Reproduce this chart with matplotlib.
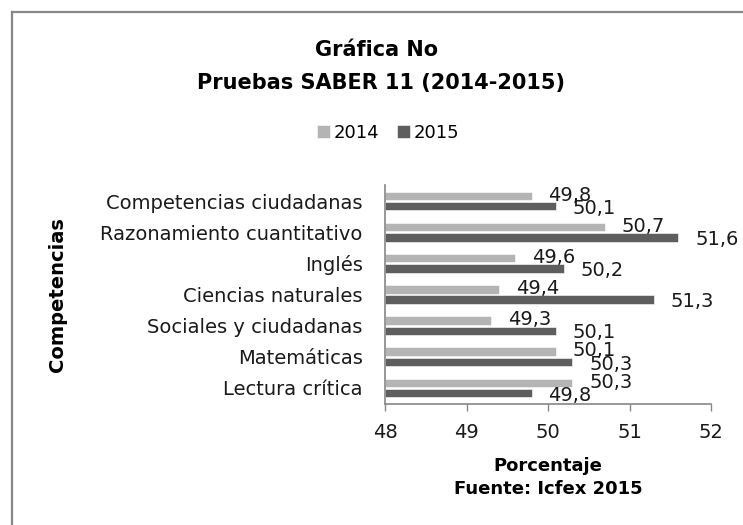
import matplotlib
matplotlib.use("Agg")
import matplotlib.pyplot as plt
import numpy as np
from matplotlib.lines import Line2D

# data (bottom to top, as drawn)
categorias = ["Lectura crítica", "Matemáticas", "Sociales y ciudadanas",
              "Ciencias naturales", "Inglés", "Razonamiento cuantitativo",
              "Competencias ciudadanas"]
valores_2014 = [50.3, 50.1, 49.3, 49.4, 49.6, 50.7, 49.8]
valores_2015 = [49.8, 50.3, 50.1, 51.3, 50.2, 51.6, 50.1]
xticks = [48, 49, 50, 51, 52]

plt.rcParams['font.family'] = ['DejaVu Sans']

fig = plt.figure(figsize=(7.43, 5.25), dpi=100)
ax = fig.add_axes([385 / 743, 1 - 403.5 / 525, 326 / 743, 218 / 525])

y = np.arange(len(categorias))
off = 0.167
h = 0.27
c14 = "#b4b4b4"
c15 = "#5e5e5e"

b14 = ax.barh(y + off, np.array(valores_2014) - 48, left=48, height=h,
              color=c14, edgecolor="white", linewidth=0.4, label="2014")
b15 = ax.barh(y - off, np.array(valores_2015) - 48, left=48, height=h,
              color=c15, edgecolor="white", linewidth=0.4, label="2015")

for yy, v in zip(y + off, valores_2014):
    ax.annotate(f"{v:.1f}".replace(".", ","), (v, yy), xytext=(12, 0.5),
                textcoords="offset points", ha="left", va="center",
                fontsize=14, color="#1a1a1a")
for yy, v in zip(y - off, valores_2015):
    ax.annotate(f"{v:.1f}".replace(".", ","), (v, yy), xytext=(12, -1.5),
                textcoords="offset points", ha="left", va="center",
                fontsize=14, color="#1a1a1a")

ax.set_xlim(48, 52)
ax.set_ylim(-0.5, len(categorias) - 0.5)
ax.set_xticks(xticks)
ax.set_xticklabels([str(t) for t in xticks], fontsize=14, color="#1a1a1a")
ax.set_yticks(y)
ax.set_yticklabels(categorias, fontsize=14, color="#1a1a1a")
ax.tick_params(axis="y", length=0, pad=16)
ax.tick_params(axis="x", length=5, width=1, color="#868686", pad=9)
for s in ["top", "right"]:
    ax.spines[s].set_visible(False)
for s in ["left", "bottom"]:
    ax.spines[s].set_color("#868686")
    ax.spines[s].set_linewidth(1.2)

ax.set_xlabel("Porcentaje\nFuente: Icfex 2015", fontsize=13, fontweight="bold",
              labelpad=11, linespacing=1.35)

fig.text(57 / 743, 1 - 295 / 525, "Competencias", rotation=90, ha="center",
         va="center", fontsize=14, fontweight="bold")

fig.text(377 / 743, 1 - 50 / 525, "Gráfica No", ha="center", va="center",
         fontsize=15, fontweight="bold")
fig.text(381 / 743, 1 - 83 / 525, "Pruebas SABER 11 (2014-2015)", ha="center",
         va="center", fontsize=15, fontweight="bold")

fig.legend(handles=[b14, b15], labels=["2014", "2015"], loc="center",
           bbox_to_anchor=(388 / 743, 1 - 133 / 525), ncol=2, frameon=False,
           fontsize=13, handlelength=0.7, handleheight=0.7, handletextpad=0.2,
           columnspacing=1.0)

# outer chart border (left and top only visible)
fig.add_artist(Line2D([11.5 / 743, 11.5 / 743], [0, 1 - 12 / 525],
                      transform=fig.transFigure, color="#878787", lw=1.6))
fig.add_artist(Line2D([11.5 / 743, 1], [1 - 12 / 525, 1 - 12 / 525],
                      transform=fig.transFigure, color="#878787", lw=1.6))

fig.savefig("out.png", dpi=100)
